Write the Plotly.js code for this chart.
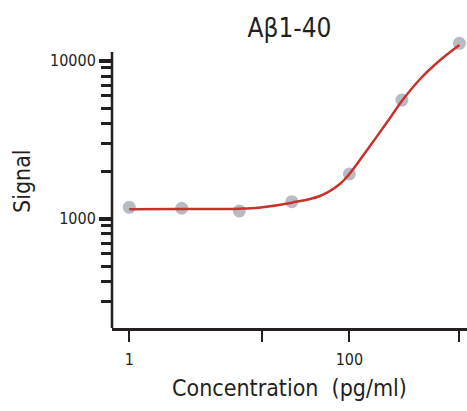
<!DOCTYPE html>
<html>
<head>
<meta charset="utf-8">
<script src="https://cdn.plot.ly/plotly-3.0.1.min.js"></script>
<style>html,body{margin:0;padding:0;background:#fff;}#chart{width:467px;height:411px;}</style>
</head>
<body>
<div id="chart"></div>
<script>
// Measured standards (concentration pg/ml, signal)
const concentration = [1, 3, 10, 30, 100, 300, 1000];
const signal = [1180, 1164, 1119, 1282, 1919, 5637, 12890];

// Fitted curve
const fitConcentration = [1, 3, 10, 15, 30, 54, 82, 100, 154, 234, 300, 440, 670, 1000];
const fitSignal = [1147, 1150, 1157, 1174, 1263, 1392, 1658, 1918, 2885, 4338, 5559, 7660, 10100, 12570];

// Axis ticks
const xTickVals = [1, 16.2, 100, 1000];
const xTickText = ['1', '', '100', ''];
const yTickVals = [1000, 10000];
const yTickText = ['1000', '10000'];
const yMinorVals = [300, 400, 500, 600, 700, 800, 900, 2000, 3000, 4000, 5000, 6000, 7000, 8000, 9000];

const FONT = 'DejaVu Sans Condensed, Liberation Sans Narrow, sans-serif';
const INK = '#231f20';

const traces = [
  {
    x: concentration, y: signal, type: 'scatter', mode: 'markers',
    marker: {size: 13, color: '#b6bbc4'}, cliponaxis: false, hoverinfo: 'skip'
  },
  {
    x: fitConcentration, y: fitSignal, type: 'scatter', mode: 'lines',
    line: {color: '#c8322c', width: 2.5, shape: 'spline', smoothing: 1}, hoverinfo: 'skip'
  }
];

const plotTop = 30, plotBottom = 328, axisTop = 52;

const layout = {
  width: 467, height: 411,
  margin: {l: 112, r: 0, t: plotTop, b: 411 - plotBottom, pad: 0},
  paper_bgcolor: '#fff', plot_bgcolor: '#fff',
  showlegend: false,
  font: {family: FONT, color: INK},
  title: {
    text: 'Aβ1-40', font: {family: FONT, size: 26, color: INK},
    x: 0.5, xref: 'paper', xanchor: 'center',
    y: 1 - 37 / 411, yref: 'container', yanchor: 'bottom'
  },
  xaxis: {
    type: 'log', range: [-0.157, 3.069],
    showgrid: false, zeroline: false,
    showline: true, linecolor: INK, linewidth: 2.5,
    ticks: 'outside', ticklen: 11, tickwidth: 2, tickcolor: INK,
    tickmode: 'array', tickvals: xTickVals, ticktext: xTickText,
    tickfont: {family: FONT, size: 16, color: INK},
    ticklabelstandoff: 4,
    title: {text: 'Concentration  (pg/ml)', font: {family: FONT, size: 23, color: INK}, standoff: 12}
  },
  yaxis: {
    type: 'log', range: [2.308, 4 + (60.7 - plotTop) / 158],
    showgrid: false, zeroline: false, showline: false,
    ticks: 'outside', ticklen: 12, tickwidth: 4, tickcolor: INK,
    tickmode: 'array', tickvals: yTickVals, ticktext: yTickText,
    tickfont: {family: FONT, size: 16, color: INK},
    minor: {tickvals: yMinorVals, ticks: 'outside', ticklen: 10, tickwidth: 3, tickcolor: INK, showgrid: false}
  },
  shapes: [
    {type: 'line', xref: 'paper', yref: 'paper', x0: 0, x1: 0,
     y0: 0, y1: (plotBottom - axisTop) / (plotBottom - plotTop),
     line: {color: INK, width: 2.5}}
  ],
  annotations: [
    {text: 'Signal', xref: 'paper', yref: 'paper', textangle: -90,
     x: -(112 - 22) / 355, y: (plotBottom - 181) / (plotBottom - plotTop),
     xanchor: 'center', yanchor: 'middle', showarrow: false,
     font: {family: FONT, size: 23, color: INK}}
  ]
};

Plotly.newPlot('chart', traces, layout, {staticPlot: true, displayModeBar: false});
</script>
</body>
</html>
